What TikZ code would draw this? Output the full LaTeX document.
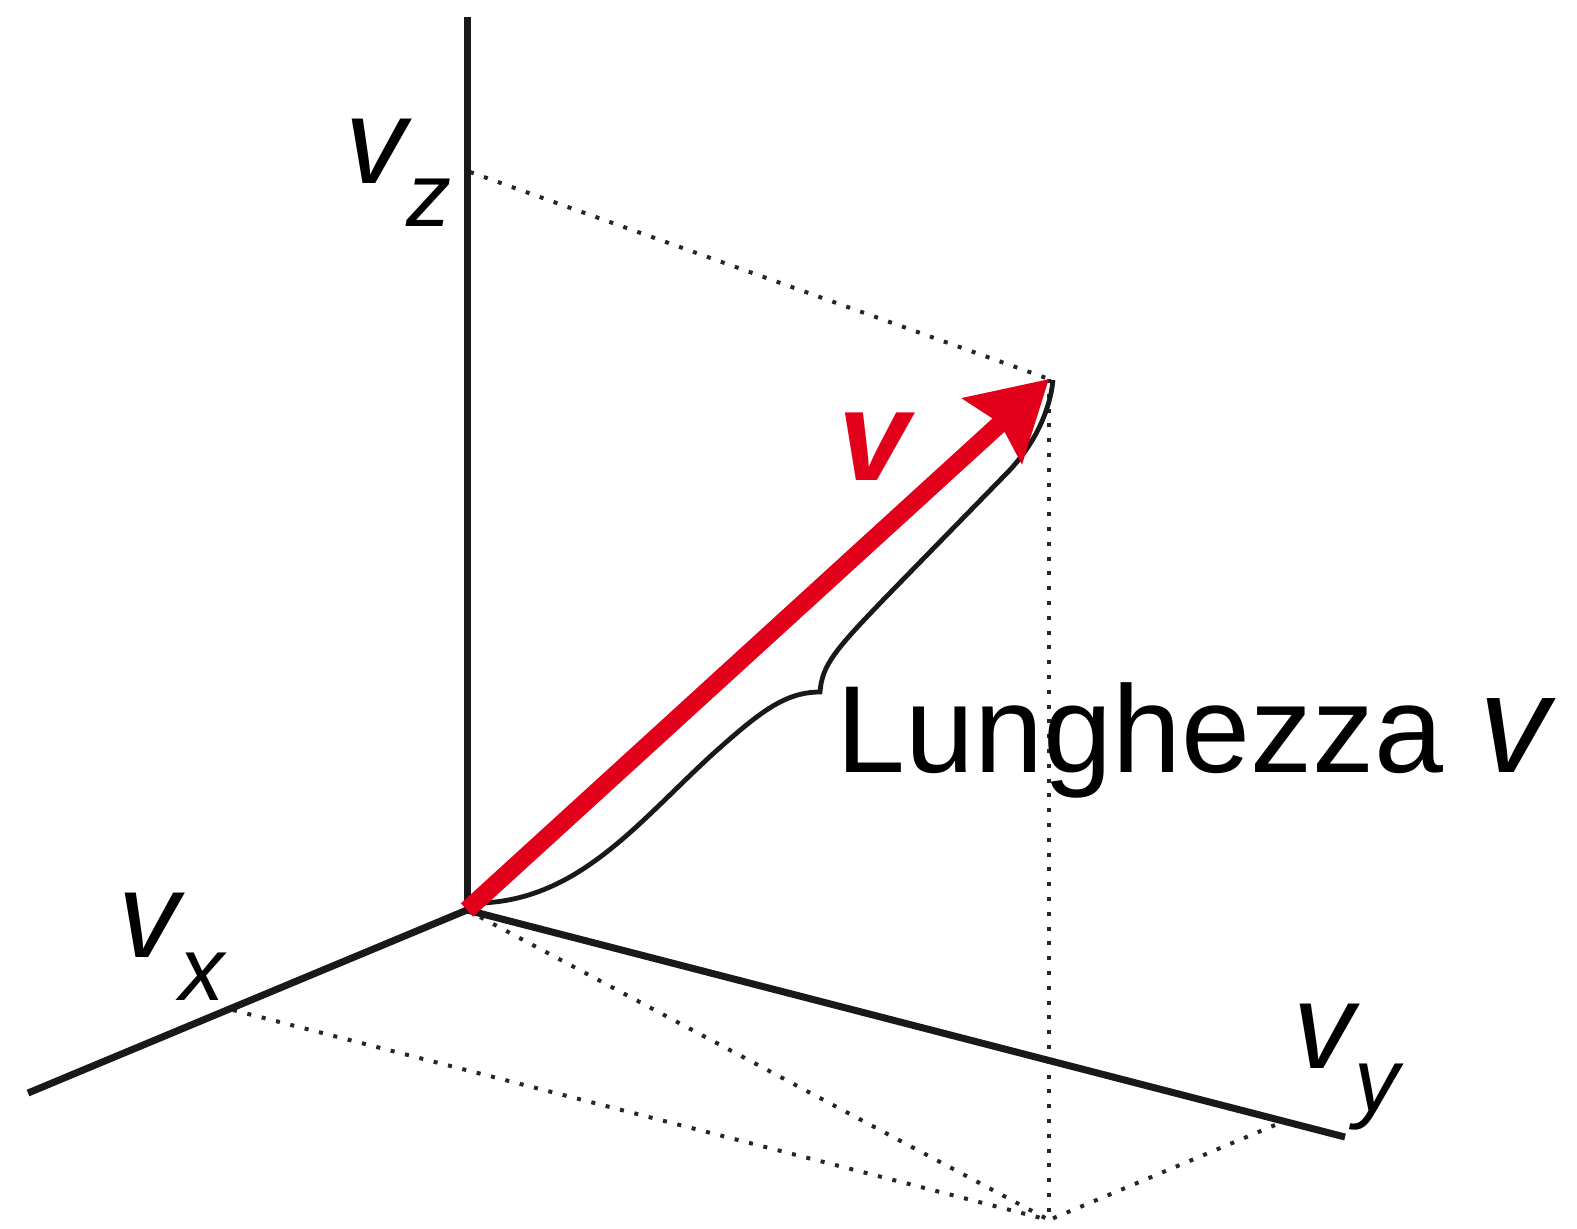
\documentclass[tikz,border=0pt]{standalone}
\usepackage{fontspec}
\setmainfont{Liberation Sans}
\usepackage{xcolor}
\definecolor{vecred}{RGB}{226,0,26}
\usetikzlibrary{arrows.meta,positioning}
\newcommand{\compsub}[1]{\raisebox{-21.5pt}{\fontsize{45}{45}\selectfont #1}}

\begin{document}
\begin{tikzpicture}[x=0.5pt, y=-0.5pt,
  axis/.style={line width=3.5pt, draw=black!90},
  proj/.style={line width=2pt, dash pattern=on 2pt off 5.4pt, draw=black!85},
  vecarr/.style={line width=9pt, draw=vecred, fill=vecred,
                 -{Stealth[length=38pt, width=43pt, inset=5pt]}},
  bracel/.style={line width=2.4pt, draw=black!90},
  lbl/.style={inner sep=0pt, anchor=base west, font=\fontsize{61}{61}\selectfont\itshape}
]
\useasboundingbox (0,0) rectangle (1577,1228);

% Points
\coordinate (O)  at (467,910);
\coordinate (zt) at (467,17);
\coordinate (xe) at (28,1093);
\coordinate (ye) at (1345,1137);
\coordinate (T)  at (1049,379);
\coordinate (P)  at (1049,1220);
\coordinate (zp) at (470,172);
\coordinate (xp) at (233,1010);
\coordinate (yp) at (1275,1125);

% Projections
\draw[proj] (zp) -- (T);
\draw[proj] (T) -- (P);
\draw[proj] (xp) -- (P);
\draw[proj] (O) -- (P);
\draw[proj] (yp) -- (P);

% Axes
\draw[axis] (O) -- (zt);
\draw[axis] (O) -- (xe);
\draw[axis] (O) -- (ye);

% Brace
\draw[bracel] (480,903) .. controls (580,900) and (640,820) .. (715,752)
  .. controls (760,712) and (785,692) .. (820,692)
  .. controls (822,665) and (835,650) .. (885,598) -- (1005,475)
  .. controls (1035,445) and (1050,410) .. (1053,380);

% Vector
\draw[vecarr] (O) -- (T);

% Labels
\node[lbl] (vz) at (345,183)  {v\compsub{z}};
\node[lbl] (vx) at (118,957)  {v\compsub{x}};
\node[lbl] (vy) at (1293,1068) {v\compsub{y}};
\node[inner sep=0pt, anchor=base, text=vecred,
      font=\fontsize{64}{64}\selectfont\bfseries\itshape] (vlbl) at (874,480) {v};
\node[inner sep=0pt, anchor=base west,
      font=\fontsize{62}{62}\selectfont] (len) at (836,772)
      {Lunghezza\hspace{18pt}{\fontsize{70}{70}\selectfont\itshape v}};
\end{tikzpicture}
\end{document}
